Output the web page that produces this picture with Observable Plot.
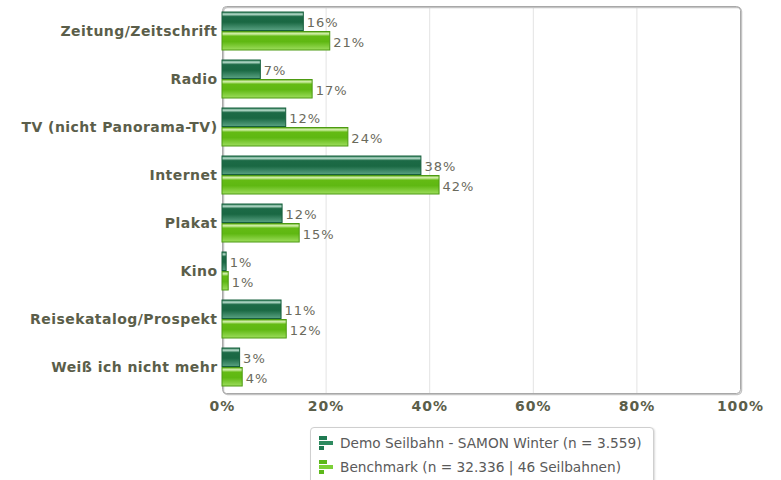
<!DOCTYPE html>
<html>
<head>
<meta charset="utf-8">
<script src="https://cdn.jsdelivr.net/npm/d3@7"></script>
<script src="https://cdn.jsdelivr.net/npm/@observablehq/plot@0.6"></script>
<style>
  body { margin: 0; background: #fff; font-family: "DejaVu Sans", Verdana, sans-serif; }
  #chart svg { display: block; overflow: visible; }
  #chart svg text { letter-spacing: 1px; }
  #chart svg g[aria-label="y-axis tick label"] text { letter-spacing: 0.45px; }
  .legend { position: absolute; left: 310px; top: 427px; width: 342px; height: 60px;
    border: 1px solid #cfcfcf; border-radius: 4px; box-shadow: 1px 1px 2px rgba(0,0,0,0.15);
    background: #fff; font-size: 13.7px; color: #5a5a5a; }
  .legend .item { position: absolute; left: 7px; display: flex; align-items: center; white-space: nowrap; }
  .legend svg { margin-right: 6px; }
</style>
</head>
<body>
<div id="chart"></div>
<div class="legend">
  <div class="item" style="top:7px"><svg width="16" height="16"><rect x="1" y="1" width="8" height="4" fill="#1f7a52"/><rect x="1" y="6" width="14" height="4" fill="#2e8b60"/><rect x="1" y="11" width="5" height="4" fill="#1f7a52"/></svg><span id="l1"></span></div>
  <div class="item" style="top:31px"><svg width="16" height="16"><rect x="1" y="1" width="8" height="4" fill="#5cb81a"/><rect x="1" y="6" width="14" height="4" fill="#7cd038"/><rect x="1" y="11" width="5" height="4" fill="#5cb81a"/></svg><span id="l2"></span></div>
</div>
<script>
const categories = ["Zeitung/Zeitschrift", "Radio", "TV (nicht Panorama-TV)", "Internet", "Plakat", "Kino", "Reisekatalog/Prospekt", "Weiß ich nicht mehr"];
const demo  = [15.7, 7.4, 12.3, 38.4, 11.6, 0.8, 11.4, 3.4];
const bench = [20.8, 17.4, 24.3, 41.9, 14.9, 1.2, 12.4, 3.9];
const seriesNames = ["Demo Seilbahn - SAMON Winter (n = 3.559)", "Benchmark (n = 32.336 | 46 Seilbahnen)"];
const xTicks = [0, 20, 40, 60, 80, 100];

document.getElementById("l1").textContent = seriesNames[0];
document.getElementById("l2").textContent = seriesNames[1];

const dDemo = categories.map((c, i) => ({cat: c, v: demo[i]}));
const dBench = categories.map((c, i) => ({cat: c, v: bench[i]}));
const half = 19.5;
const labelColor = "#6a6a5c";

const plot = Plot.plot({
  width: 781,
  height: 420,
  marginLeft: 222,
  marginRight: 41,
  marginTop: 6,
  marginBottom: 27,
  style: {fontFamily: "DejaVu Sans, Verdana, sans-serif", background: "#fff"},
  x: {domain: [0, 100], ticks: xTicks, tickFormat: d => d + "%", label: null},
  y: {domain: categories, paddingInner: 0.2, paddingOuter: 0.08, label: null},
  marks: [
    Plot.ruleX(xTicks.slice(1, -1), {stroke: "#e3e3e3"}),
    Plot.frame({stroke: "#c4c4c4", rx: 4, dx: 1, dy: 1, strokeWidth: 1.5}),
    Plot.frame({stroke: "#a8a8a8", rx: 4}),
    Plot.barX(dDemo, {x: "v", y: "cat", insetBottom: half, fill: "url(#gDark)", stroke: "#17603d", strokeWidth: 1}),
    Plot.barX(dBench, {x: "v", y: "cat", insetTop: half, fill: "url(#gLight)", stroke: "#4d9a12", strokeWidth: 1}),
    Plot.text(dDemo, {x: "v", y: "cat", text: d => Math.round(d.v) + "%", dx: 3, dy: -9, textAnchor: "start", fill: labelColor, fontSize: 13}),
    Plot.text(dBench, {x: "v", y: "cat", text: d => Math.round(d.v) + "%", dx: 3, dy: 11, textAnchor: "start", fill: labelColor, fontSize: 13}),
    Plot.axisX({ticks: xTicks, tickFormat: d => d + "%", tickSize: 0, tickPadding: 8, fontSize: 14, fontWeight: "bold", fill: "#5b5e4a", label: null}),
    Plot.axisY({tickSize: 0, tickPadding: 5, fontSize: 14, fontWeight: "bold", fill: "#5b5e4a", label: null})
  ]
});

const ns = "http://www.w3.org/2000/svg";
const defs = document.createElementNS(ns, "defs");
defs.innerHTML = `
  <linearGradient id="gDark" x1="0" y1="0" x2="0" y2="1">
    <stop offset="0" stop-color="#2b7a56"/>
    <stop offset="0.12" stop-color="#b7dccb"/>
    <stop offset="0.25" stop-color="#1c6a46"/>
    <stop offset="0.55" stop-color="#1a6843"/>
    <stop offset="1" stop-color="#5aa283"/>
  </linearGradient>
  <linearGradient id="gLight" x1="0" y1="0" x2="0" y2="1">
    <stop offset="0" stop-color="#62b21c"/>
    <stop offset="0.12" stop-color="#d8f2b2"/>
    <stop offset="0.25" stop-color="#64bb14"/>
    <stop offset="0.55" stop-color="#5fb812"/>
    <stop offset="1" stop-color="#9ddd5c"/>
  </linearGradient>`;
plot.insertBefore(defs, plot.firstChild);
document.getElementById("chart").appendChild(plot);
</script>
</body>
</html>
